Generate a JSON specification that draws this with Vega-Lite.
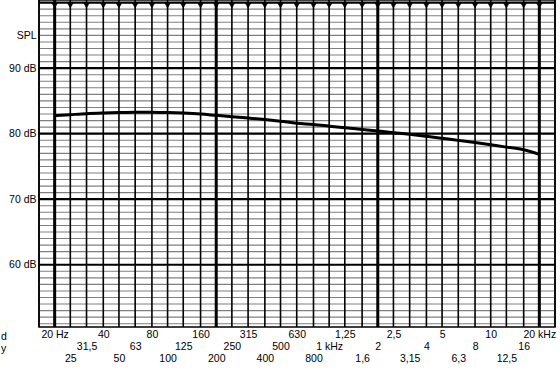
{
  "$schema": "https://vega.github.io/schema/vega-lite/v6.json",
  "width": 516,
  "height": 327,
  "autosize": {"type": "none"},
  "padding": {"left": 39, "top": 0, "right": 5, "bottom": 43},
  "background": "white",
  "config": {
    "view": {"stroke": "black", "strokeWidth": 1.5},
    "font": "Liberation Sans",
    "axis": {"labelFont": "Liberation Sans", "labelFontSize": 10.5, "labelColor": "black"}
  },
  "datasets": {
    "levels": [
      {"dB": 51}, {"dB": 52}, {"dB": 53}, {"dB": 54}, {"dB": 55}, {"dB": 56}, {"dB": 57}, {"dB": 58}, {"dB": 59}, {"dB": 60},
      {"dB": 61}, {"dB": 62}, {"dB": 63}, {"dB": 64}, {"dB": 65}, {"dB": 66}, {"dB": 67}, {"dB": 68}, {"dB": 69}, {"dB": 70},
      {"dB": 71}, {"dB": 72}, {"dB": 73}, {"dB": 74}, {"dB": 75}, {"dB": 76}, {"dB": 77}, {"dB": 78}, {"dB": 79}, {"dB": 80},
      {"dB": 81}, {"dB": 82}, {"dB": 83}, {"dB": 84}, {"dB": 85}, {"dB": 86}, {"dB": 87}, {"dB": 88}, {"dB": 89}, {"dB": 90},
      {"dB": 91}, {"dB": 92}, {"dB": 93}, {"dB": 94}, {"dB": 95}, {"dB": 96}, {"dB": 97}, {"dB": 98}, {"dB": 99}, {"dB": 100}
    ],
    "bands": [
      {"f": 16}, {"f": 20}, {"f": 25}, {"f": 31.5}, {"f": 40}, {"f": 50}, {"f": 63}, {"f": 80}, {"f": 100}, {"f": 125},
      {"f": 160}, {"f": 200}, {"f": 250}, {"f": 315}, {"f": 400}, {"f": 500}, {"f": 630}, {"f": 800}, {"f": 1000}, {"f": 1250},
      {"f": 1600}, {"f": 2000}, {"f": 2500}, {"f": 3150}, {"f": 4000}, {"f": 5000}, {"f": 6300}, {"f": 8000}, {"f": 10000}, {"f": 12500},
      {"f": 16000}, {"f": 20000}, {"f": 25000}
    ],
    "markers": [
      {"f": 20}, {"f": 25}, {"f": 31.5}, {"f": 40}, {"f": 50}, {"f": 63}, {"f": 80}, {"f": 100}, {"f": 125},
      {"f": 160}, {"f": 200}, {"f": 250}, {"f": 315}, {"f": 400}, {"f": 500}, {"f": 630}, {"f": 800}, {"f": 1000}, {"f": 1250},
      {"f": 1600}, {"f": 2000}, {"f": 2500}, {"f": 3150}, {"f": 4000}, {"f": 5000}, {"f": 6300}, {"f": 8000}, {"f": 10000}, {"f": 12500},
      {"f": 16000}, {"f": 20000}
    ],
    "response": [
      {"f": 20, "dB": 82.75}, {"f": 25, "dB": 82.9}, {"f": 31.5, "dB": 83.05}, {"f": 40, "dB": 83.15}, {"f": 50, "dB": 83.22},
      {"f": 63, "dB": 83.27}, {"f": 80, "dB": 83.28}, {"f": 100, "dB": 83.22}, {"f": 125, "dB": 83.14}, {"f": 160, "dB": 83.0},
      {"f": 200, "dB": 82.8}, {"f": 250, "dB": 82.6}, {"f": 315, "dB": 82.38}, {"f": 400, "dB": 82.15}, {"f": 500, "dB": 81.9},
      {"f": 630, "dB": 81.6}, {"f": 800, "dB": 81.4}, {"f": 1000, "dB": 81.15}, {"f": 1250, "dB": 80.9}, {"f": 1600, "dB": 80.65},
      {"f": 2000, "dB": 80.4}, {"f": 2500, "dB": 80.15}, {"f": 3150, "dB": 79.9}, {"f": 4000, "dB": 79.6}, {"f": 5000, "dB": 79.3},
      {"f": 6300, "dB": 78.98}, {"f": 8000, "dB": 78.65}, {"f": 10000, "dB": 78.3}, {"f": 12500, "dB": 77.95}, {"f": 16000, "dB": 77.55},
      {"f": 20000, "dB": 76.85}
    ],
    "fragments": [
      {"f": 9.3, "dB": 48.9, "t": "d"},
      {"f": 9.3, "dB": 47.2, "t": "y"}
    ]
  },
  "resolve": {"axis": {"x": "independent", "y": "independent"}},
  "layer": [
    {
      "data": {"name": "levels"},
      "mark": {"type": "rule"},
      "encoding": {
        "y": {
          "field": "dB", "type": "quantitative",
          "scale": {"domain": [50.5, 100.4], "nice": false, "zero": false},
          "axis": {
            "values": [60, 70, 80, 90, 95],
            "labelExpr": "datum.value == 95 ? 'SPL' : datum.value + ' dB'",
            "domain": false, "ticks": false, "grid": false, "labelPadding": 3, "title": null
          }
        },
        "color": {"condition": {"test": "datum.dB % 10 == 0", "value": "black"}, "value": "#808080"},
        "strokeWidth": {"condition": {"test": "datum.dB % 10 == 0", "value": 2.2}, "value": 1.1}
      }
    },
    {
      "data": {"name": "bands"},
      "mark": {"type": "rule", "color": "black"},
      "encoding": {
        "x": {
          "field": "f", "type": "quantitative",
          "scale": {"type": "log", "domain": [16, 25000], "nice": false},
          "axis": {
            "orient": "bottom",
            "values": [20, 40, 80, 160, 315, 630, 1250, 2500, 5000, 10000, 20000],
            "labelExpr": "datum.value == 20 ? '20 Hz' : datum.value == 20000 ? '20 kHz' : datum.value == 1000 ? '1 kHz' : replace('' + (datum.value >= 1000 ? datum.value / 1000 : datum.value), '.', ',')",
            "domain": false, "ticks": false, "grid": false, "labelPadding": 2, "title": null,
            "labelFlush": false, "labelOverlap": false
          }
        },
        "strokeWidth": {"condition": {"test": "datum.f == 20 || datum.f == 200 || datum.f == 2000 || datum.f == 20000", "value": 3}, "value": 1.6}
      }
    },
    {
      "data": {"name": "markers"},
      "mark": {"type": "point", "shape": "triangle-down", "filled": true, "fill": "black", "stroke": "black", "strokeWidth": 0.5, "opacity": 1, "size": 40},
      "encoding": {
        "x": {
          "field": "f", "type": "quantitative",
          "scale": {"type": "log", "domain": [16, 25000], "nice": false},
          "axis": {
            "orient": "bottom", "offset": 12,
            "values": [31.5, 63, 125, 250, 500, 1000, 2000, 4000, 8000, 16000],
            "labelExpr": "datum.value == 20 ? '20 Hz' : datum.value == 20000 ? '20 kHz' : datum.value == 1000 ? '1 kHz' : replace('' + (datum.value >= 1000 ? datum.value / 1000 : datum.value), '.', ',')",
            "domain": false, "ticks": false, "grid": false, "labelPadding": 2, "title": null,
            "labelFlush": false, "labelOverlap": false
          }
        },
        "y": {"datum": 99.6, "type": "quantitative", "scale": {"domain": [50.5, 100.4], "nice": false, "zero": false}, "axis": null}
      }
    },
    {
      "data": {"name": "response"},
      "mark": {"type": "line", "color": "black", "strokeWidth": 3, "interpolate": "monotone"},
      "encoding": {
        "x": {
          "field": "f", "type": "quantitative",
          "scale": {"type": "log", "domain": [16, 25000], "nice": false},
          "axis": {
            "orient": "bottom", "offset": 24,
            "values": [25, 50, 100, 200, 400, 800, 1600, 3150, 6300, 12500],
            "labelExpr": "datum.value == 20 ? '20 Hz' : datum.value == 20000 ? '20 kHz' : datum.value == 1000 ? '1 kHz' : replace('' + (datum.value >= 1000 ? datum.value / 1000 : datum.value), '.', ',')",
            "domain": false, "ticks": false, "grid": false, "labelPadding": 2, "title": null,
            "labelFlush": false, "labelOverlap": false
          }
        },
        "y": {"field": "dB", "type": "quantitative", "scale": {"domain": [50.5, 100.4], "nice": false, "zero": false}, "axis": null}
      }
    },
    {
      "data": {"name": "fragments"},
      "mark": {"type": "text", "align": "left", "baseline": "middle", "fontSize": 10.5, "color": "black", "font": "Liberation Sans"},
      "encoding": {
        "x": {"field": "f", "type": "quantitative", "scale": {"type": "log", "domain": [16, 25000], "nice": false}, "axis": null},
        "y": {"field": "dB", "type": "quantitative", "scale": {"domain": [50.5, 100.4], "nice": false, "zero": false}, "axis": null},
        "text": {"field": "t"}
      }
    }
  ]
}
